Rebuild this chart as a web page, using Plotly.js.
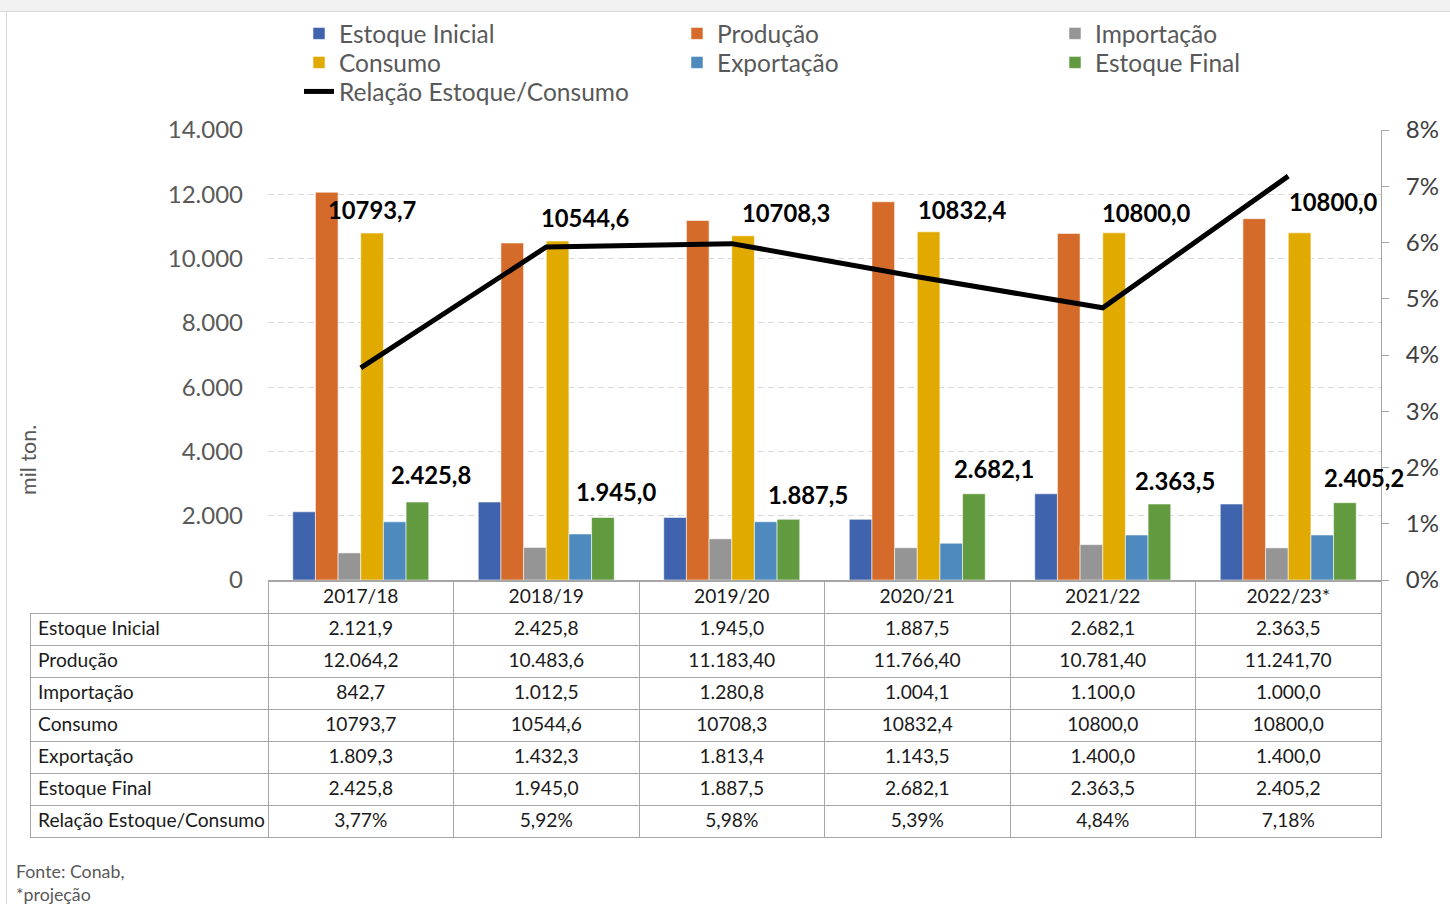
<!DOCTYPE html>
<html>
<head>
<meta charset="utf-8">
<script src="https://cdn.plot.ly/plotly-3.0.1.min.js"></script>
<style>
  html, body { margin: 0; padding: 0; background: #fff; }
  #chart { width: 1450px; height: 904px; }
  #topband { position: absolute; left: 0; top: 0; width: 1450px; height: 11px; background: #f2f2f2; border-bottom: 1px solid #d9d9d9; }
  #leftline { position: absolute; left: 6px; top: 12px; width: 1px; height: 892px; background: #d9d9d9; }
</style>
</head>
<body>
<div id="chart"></div>
<div id="topband"></div>
<div id="leftline"></div>
<script>
// safra
const years = ['2017/18', '2018/19', '2019/20', '2020/21', '2021/22', '2022/23*'];

// mil ton.
const estoqueInicial = [2121.9, 2425.8, 1945.0, 1887.5, 2682.1, 2363.5];
const producao = [12064.2, 10483.6, 11183.4, 11766.4, 10781.4, 11241.7];
const importacao = [842.7, 1012.5, 1280.8, 1004.1, 1100.0, 1000.0];
const consumo = [10793.7, 10544.6, 10708.3, 10832.4, 10800.0, 10800.0];
const exportacao = [1809.3, 1432.3, 1813.4, 1143.5, 1400.0, 1400.0];
const estoqueFinal = [2425.8, 1945.0, 1887.5, 2682.1, 2363.5, 2405.2];
// %
const relacao = [3.77, 5.92, 5.98, 5.39, 4.84, 7.18];

// how the table prints them
const producaoDecimals = [1, 1, 2, 2, 2, 2];

const seriesNames = ['Estoque Inicial', 'Produção', 'Importação', 'Consumo', 'Exportação', 'Estoque Final'];
const seriesValues = [estoqueInicial, producao, importacao, consumo, exportacao, estoqueFinal];
const seriesColors = ['#3f63ad', '#d46b2b', '#959595', '#e1aa00', '#4f8abe', '#629a3f'];
const lineName = 'Relação Estoque/Consumo';

// hand placed data labels (px offsets from the bar top)
const consLabelDx = [11, 39, 54, 45, 44, 45];
const consLabelDy = [23, 23, 23, 22, 20, 31];
const finalLabelDx = [70, 70, 76, 77, 72, 76];
const finalLabelDy = [27, 25, 24, 25, 23, 25];

function fmt(v, dec, group) {
    let parts = v.toFixed(dec).split('.');
    let int = parts[0];
    if (group) int = int.replace(/\B(?=(\d{3})+(?!\d))/g, '.');
    return parts.length > 1 ? int + ',' + parts[1] : int;
}

// page geometry
const W = 1450, H = 904;
const mar = { l: 30, r: 69, t: 130, b: 66 };
const plotW = W - mar.l - mar.r, plotH = H - mar.t - mar.b;
const labelColW = 238;
const axisBottomPx = 580, tableTopPx = 581;
const rowH = 32;
const legendRowsPx = [11, 40, 69];   // top of each legend row
const pxToPaperY = px => (H - mar.b - px) / plotH;

const FONT = 'Lato, "Open Sans", sans-serif';
const grey = '#595959';

let traces = [];

seriesNames.forEach((name, k) => {
    traces.push({
        type: 'bar',
        name: name,
        x: years,
        y: seriesValues[k],
        legend: k < 3 ? 'legend' : 'legend2',
        marker: { color: seriesColors[k], line: { color: 'rgba(255,255,255,0.55)', width: 1 } },
        hoverinfo: 'skip'
    });
});

traces.push({
    type: 'scatter',
    mode: 'lines',
    name: lineName,
    x: years,
    y: relacao,
    yaxis: 'y2',
    legend: 'legend3',
    line: { color: 'black', width: 5 },
    hoverinfo: 'skip'
});

// data table under the chart
const rowLabels = seriesNames.concat([lineName]).map(s => s.replace(/ /g, '\u00a0'));
let tableCols = [rowLabels];
years.forEach((yr, i) => {
    tableCols.push([
        fmt(estoqueInicial[i], 1, true),
        fmt(producao[i], producaoDecimals[i], true),
        fmt(importacao[i], 1, true),
        fmt(consumo[i], 1, false),
        fmt(exportacao[i], 1, true),
        fmt(estoqueFinal[i], 1, true),
        fmt(relacao[i], 2, false) + '%'
    ]);
});

const tableLine = '#a6a6a6';
const tableFont = { family: FONT, size: 19.2, color: '#1a1a1a' };
traces.push({
    type: 'table',
    domain: { x: [0, 1], y: [0, pxToPaperY(tableTopPx)] },
    columnwidth: [labelColW].concat(years.map(() => (plotW - labelColW) / years.length)),
    header: {
        values: [''].concat(years),
        height: rowH,
        align: 'center',
        fill: { color: ['rgba(0,0,0,0)'].concat(years.map(() => 'white')) },
        line: { color: tableLine, width: [0].concat(years.map(() => 1)) },
        font: tableFont
    },
    cells: {
        values: tableCols,
        height: rowH,
        align: ['left'].concat(years.map(() => 'center')),
        fill: { color: 'white' },
        line: { color: tableLine, width: 1 },
        font: tableFont
    }
});

let annotations = [];
const labelFont = { family: FONT, size: 23.8, color: 'black', weight: 700 };
years.forEach((yr, i) => {
    annotations.push({
        x: yr, y: consumo[i], xref: 'x', yref: 'y',
        text: fmt(consumo[i], 1, false),
        showarrow: false, xshift: consLabelDx[i], yshift: consLabelDy[i],
        font: labelFont
    });
    annotations.push({
        x: yr, y: estoqueFinal[i], xref: 'x', yref: 'y',
        text: fmt(estoqueFinal[i], 1, true),
        showarrow: false, xshift: finalLabelDx[i], yshift: finalLabelDy[i],
        font: labelFont
    });
});

// y title sits low, like in the sheet
annotations.push({
    xref: 'paper', yref: 'paper',
    x: (28 - mar.l) / plotW, y: pxToPaperY(460),
    xanchor: 'center', yanchor: 'middle',
    text: 'mil ton.', textangle: -90, showarrow: false,
    font: { family: FONT, size: 21.5, color: grey }
});

annotations.push({
    xref: 'paper', yref: 'paper',
    x: (14 - mar.l) / plotW, y: pxToPaperY(858),
    xanchor: 'left', yanchor: 'top', align: 'left',
    text: 'Fonte: Conab,<br>*projeção', showarrow: false,
    font: { family: FONT, size: 17.8, color: grey }
});

function legendRow(topPx) {
    return {
        orientation: 'h',
        x: (299 - mar.l) / plotW, xanchor: 'left',
        y: pxToPaperY(topPx), yanchor: 'top',
        entrywidth: 333, entrywidthmode: 'pixels',
        itemwidth: 30,
        font: { family: FONT, size: 24.5, color: grey },
        bgcolor: 'rgba(0,0,0,0)'
    };
}

const layout = {
    width: W,
    height: H,
    margin: { l: mar.l, r: mar.r, t: mar.t, b: mar.b, autoexpand: false },
    paper_bgcolor: 'white',
    plot_bgcolor: 'white',
    separators: ',.',
    font: { family: FONT, color: grey },
    barmode: 'group',
    bargap: 0.267,
    bargroupgap: 0,
    showlegend: true,
    legend: legendRow(legendRowsPx[0]),
    legend2: legendRow(legendRowsPx[1]),
    legend3: legendRow(legendRowsPx[2]),
    xaxis: {
        type: 'category',
        domain: [labelColW / plotW, 1],
        range: [-0.5, years.length - 0.5],
        autorange: false,
        showticklabels: false,
        showgrid: false,
        zeroline: false,
        showline: true,
        linecolor: tableLine,
        linewidth: 1,
        fixedrange: true
    },
    yaxis: {
        domain: [pxToPaperY(axisBottomPx), 1],
        range: [0, 14000],
        autorange: false,
        dtick: 2000,
        tickformat: ',d',
        showgrid: true,
        gridcolor: '#d9d9d9',
        griddash: '6px,4px',
        gridwidth: 1,
        zeroline: false,
        showline: false,
        ticks: '',
        ticklabelstandoff: 24,
        tickfont: { family: FONT, size: 24, color: grey },
        fixedrange: true
    },
    yaxis2: {
        overlaying: 'y',
        side: 'right',
        anchor: 'x',
        range: [0, 8],
        autorange: false,
        dtick: 1,
        ticksuffix: '%',
        showgrid: false,
        zeroline: false,
        showline: true,
        linecolor: tableLine,
        linewidth: 1,
        ticks: 'outside',
        ticklen: 7,
        tickcolor: tableLine,
        ticklabelstandoff: 12,
        tickfont: { family: FONT, size: 24, color: '#404040' },
        fixedrange: true
    },
    annotations: annotations
};

Plotly.newPlot('chart', traces, layout, { staticPlot: true, displayModeBar: false });
</script>
</body>
</html>
